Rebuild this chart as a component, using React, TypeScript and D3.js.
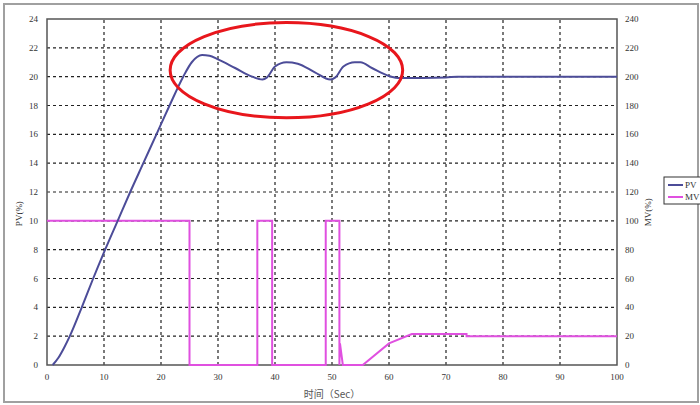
import { useEffect, useRef } from "react";
import * as d3 from "d3";

// PV curve (left axis, %)
const pvTime = [1, 2, 3, 4, 6.1, 8.1, 10.2, 12.4, 14.6, 16.9, 19.2, 21.5, 23.9, 25.4, 27.2, 28.5, 30, 33, 36, 37.8, 38.6, 40, 42, 44, 47, 49.7, 50.6, 52, 54, 55, 57, 60, 62, 70, 72, 100];
const pvValue = [0, 0.5, 1.2, 2, 4, 6, 8, 10, 12, 14, 16, 18, 20, 21, 21.5, 21.45, 21.2, 20.6, 20, 19.8, 19.95, 20.7, 21, 20.9, 20.3, 19.8, 19.95, 20.7, 21, 21, 20.6, 20.05, 19.9, 19.95, 20, 20];

// MV output (right axis, %)
const mvTime = [0, 25, 25, 36.9, 36.9, 39.5, 39.5, 48.9, 48.9, 51.3, 51.3, 51.4, 51.9, 55.4, 60, 64, 73.6, 73.6, 100];
const mvValue = [100, 100, 0, 0, 100, 100, 0, 0, 100, 100, 0, 15, 0, 0, 15, 21.5, 21.5, 20, 20];

const xTicks = [0, 10, 20, 30, 40, 50, 60, 70, 80, 90, 100];
const leftTicks = [0, 2, 4, 6, 8, 10, 12, 14, 16, 18, 20, 22, 24];
const rightTicks = [0, 20, 40, 60, 80, 100, 120, 140, 160, 180, 200, 220, 240];

// highlight ellipse, in data units
const ellipseCenter = [42, 20.45];
const ellipseRadius = [20.4, 3.3];

const App = () => {
  const ref = useRef<SVGSVGElement>(null);

  useEffect(() => {
    const width = 700;
    const height = 405;
    const margin = { top: 19, right: 83, bottom: 40, left: 47 };

    const svg = d3.select(ref.current);
    svg.selectAll("*").remove();

    const x = d3.scaleLinear().domain([0, 100]).range([margin.left, width - margin.right]);
    const yL = d3.scaleLinear().domain([0, 24]).range([height - margin.bottom, margin.top]);
    const yR = d3.scaleLinear().domain([0, 240]).range([height - margin.bottom, margin.top]);

    svg.append("rect").attr("width", width).attr("height", height).attr("fill", "#fff");
    // outer frame
    svg.append("rect")
      .attr("x", 4).attr("y", 4).attr("width", 694).attr("height", 398)
      .attr("fill", "none").attr("stroke", "#a0a0a0").attr("stroke-width", 2);

    const font = "'Liberation Serif', serif";

    // grid
    const grid = svg.append("g").attr("stroke", "#222").attr("stroke-width", 1.2).attr("stroke-dasharray", "3,3");
    xTicks.slice(1, -1).forEach((t) => {
      grid.append("line").attr("x1", x(t)).attr("x2", x(t)).attr("y1", yL(0)).attr("y2", yL(24));
    });
    leftTicks.slice(1, -1).forEach((t) => {
      grid.append("line").attr("x1", x(0)).attr("x2", x(100)).attr("y1", yL(t)).attr("y2", yL(t));
    });

    // plot box
    svg.append("rect")
      .attr("x", x(0)).attr("y", yL(24)).attr("width", x(100) - x(0)).attr("height", yL(0) - yL(24))
      .attr("fill", "none").attr("stroke", "#555").attr("stroke-width", 1.5);

    // tick labels
    const tickStyle = (s: any) => s.attr("font-family", font).attr("font-size", 9).attr("fill", "#333");
    xTicks.forEach((t) => {
      svg.append("text").attr("x", x(t)).attr("y", yL(0) + 15).attr("text-anchor", "middle").text(t).call(tickStyle);
    });
    leftTicks.forEach((t) => {
      svg.append("text").attr("x", x(0) - 9).attr("y", yL(t) + 3).attr("text-anchor", "end").text(t).call(tickStyle);
    });
    rightTicks.forEach((t) => {
      svg.append("text").attr("x", x(100) + 8).attr("y", yR(t) + 3).attr("text-anchor", "start").text(t).call(tickStyle);
    });

    // axis titles
    svg.append("text")
      .attr("transform", `translate(22,${yL(10.5)}) rotate(-90)`)
      .attr("text-anchor", "middle").attr("font-family", font).attr("font-size", 9).attr("fill", "#333")
      .text("PV(%)");
    svg.append("text")
      .attr("transform", `translate(651,${yR(106)}) rotate(-90)`)
      .attr("text-anchor", "middle").attr("font-family", font).attr("font-size", 9).attr("fill", "#333")
      .text("MV(%)");
    svg.append("text")
      .attr("x", x(50)).attr("y", 398).attr("text-anchor", "middle")
      .attr("font-family", "'Noto Sans CJK SC', sans-serif").attr("font-size", 10).attr("fill", "#555")
      .text("时间（Sec）");

    // MV line
    const mvLine = d3.line<number>().x((_, i) => x(mvTime[i])).y((d) => yR(d));
    svg.append("path").datum(mvValue).attr("d", mvLine)
      .attr("fill", "none").attr("stroke", "#e050e0").attr("stroke-width", 2);

    // PV line
    const pvLine = d3.line<number>().x((_, i) => x(pvTime[i])).y((d) => yL(d)).curve(d3.curveMonotoneX);
    svg.append("path").datum(pvValue).attr("d", pvLine)
      .attr("fill", "none").attr("stroke", "#4c4c98").attr("stroke-width", 2);

    // red highlight ellipse
    svg.append("ellipse")
      .attr("cx", x(ellipseCenter[0])).attr("cy", yL(ellipseCenter[1]))
      .attr("rx", x(ellipseRadius[0]) - x(0)).attr("ry", yL(0) - yL(ellipseRadius[1]))
      .attr("fill", "none").attr("stroke", "#e8161c").attr("stroke-width", 3);

    // legend
    const lg = svg.append("g").attr("transform", "translate(664,177)");
    lg.append("rect").attr("width", 40).attr("height", 27).attr("fill", "#fff").attr("stroke", "#333").attr("stroke-width", 1);
    [["PV", "#4c4c98"], ["MV", "#e050e0"]].forEach(([name, color], i) => {
      const yy = 8 + i * 12;
      lg.append("line").attr("x1", 4).attr("x2", 19).attr("y1", yy).attr("y2", yy).attr("stroke", color).attr("stroke-width", 2);
      lg.append("text").attr("x", 21).attr("y", yy + 3).attr("font-family", font).attr("font-size", 9).attr("fill", "#333").text(name);
    });
  }, []);

  return <svg ref={ref} width={700} height={405} style={{ position: "absolute", left: 0, top: 0 }} />;
};

export default App;
